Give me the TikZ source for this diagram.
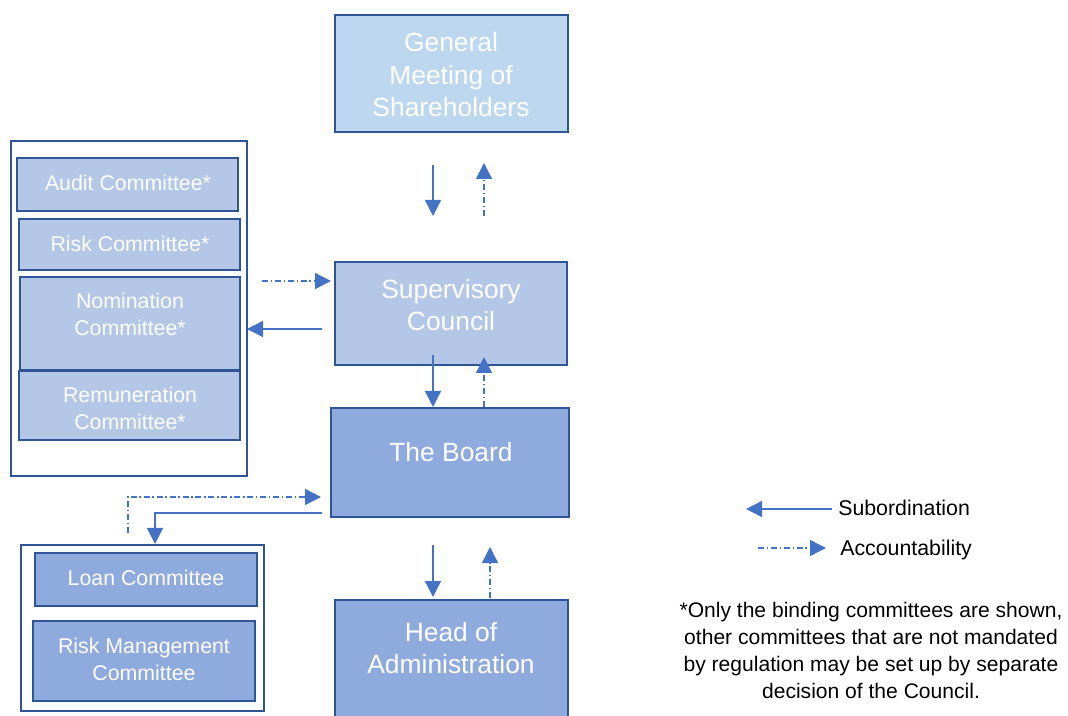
\documentclass[tikz,border=0pt]{standalone}
\usepackage{fontspec}
\setmainfont{Liberation Sans}
\usetikzlibrary{arrows.meta,fit}
\definecolor{edgeblue}{HTML}{2F5597}
\definecolor{arrblue}{HTML}{4472C4}
\definecolor{fillA}{HTML}{BDD7EE}
\definecolor{fillB}{HTML}{B4C7E7}
\definecolor{fillC}{HTML}{8FAADC}
\begin{document}
\begin{tikzpicture}[x=0.75pt,y=-0.75pt,
  box/.style={draw=edgeblue, line width=2.2pt, inner sep=0pt},
  cont/.style={draw=edgeblue, line width=1.6pt, fill=white, inner sep=0pt},
  bigtxt/.style={text=white, align=center, inner sep=0pt, font=\fontsize{19.8}{24.4}\selectfont},
  smalltxt/.style={text=white, align=center, inner sep=0pt, font=\fontsize{16}{20.25}\selectfont},
  legtxt/.style={text=black, anchor=west, inner sep=0pt, font=\fontsize{16}{20.25}\selectfont},
  subarr/.style={draw=arrblue, line width=1pt, -{Triangle[length=12pt,width=12pt]}},
  accarr/.style={draw=arrblue, line width=1pt, dash pattern=on 4.5pt off 2pt on 1.2pt off 2pt, -{Triangle[length=12pt,width=12pt]}}
]
\useasboundingbox (0,0) rectangle (1068,716);
\clip (0,0) rectangle (1068,716);

% main boxes
\node[box, fill=fillA, fit={(335,15)(568,132)}] (gms) {};
\node[bigtxt] (gmsT) at (451,75) {General\\Meeting of\\Shareholders};
\node[box, fill=fillB, fit={(335,262)(567,365)}] (sc) {};
\node[bigtxt] (scT) at (451,305) {Supervisory\\Council};
\node[box, fill=fillC, fit={(331,408)(569,517)}] (board) {};
\node[bigtxt] (boardT) at (451,452) {The Board};
\node[box, fill=fillC, fit={(335,600)(568,730)}] (head) {};
\node[bigtxt] (headT) at (451,648) {Head of\\Administration};

% left committees
\node[cont, fit={(11,141)(247,476)}] (leftc) {};
\node[box, fill=fillB, fit={(17,158)(238,211)}] (audit) {};
\node[smalltxt] (auditT) at (128,183) {Audit Committee*};
\node[box, fill=fillB, fit={(19,219)(240,270)}] (risk) {};
\node[smalltxt] (riskT) at (130,244) {Risk Committee*};
\node[box, fill=fillB, fit={(20,277)(240,370)}] (nom) {};
\node[smalltxt] (nomT) at (130,314) {Nomination\\Committee*};
\node[box, fill=fillB, fit={(19,371)(240,440)}] (rem) {};
\node[smalltxt] (remT) at (130,408) {Remuneration\\Committee*};

% lower committees
\node[cont, fit={(21,545)(264,711)}] (lowc) {};
\node[box, fill=fillC, fit={(35,553)(257,606)}] (loan) {};
\node[smalltxt] (loanT) at (146,578) {Loan Committee};
\node[box, fill=fillC, fit={(33,621)(255,701)}] (rm) {};
\node[smalltxt] (rmT) at (144,659) {Risk Management\\Committee};

% connector coordinates
\coordinate (g1) at (433,165); \coordinate (g2) at (433,216);
\coordinate (g3) at (484,216); \coordinate (g4) at (484,163);
\coordinate (s1) at (262,281); \coordinate (s2) at (331,281);
\coordinate (s3) at (322,329); \coordinate (s4) at (247,329);
\coordinate (b1) at (433,355); \coordinate (b2) at (433,407);
\coordinate (b3) at (484,407); \coordinate (b4) at (484,357);
\coordinate (l1) at (128,533); \coordinate (l2) at (321,497);
\coordinate (l3) at (322,513); \coordinate (l4) at (155,544);
\coordinate (h1) at (433,545); \coordinate (h2) at (433,597);
\coordinate (h3) at (490,598); \coordinate (h4) at (490,547);

\draw[subarr] (g1) -- (g2);
\draw[accarr] (g3) -- (g4);
\draw[accarr] (s1) -- (s2);
\draw[subarr] (s3) -- (s4);
\draw[subarr] (b1) -- (b2);
\draw[accarr] (b3) -- (b4);
\draw[accarr] (l1) |- (l2);
\draw[subarr] (l3) -| (l4);
\draw[subarr] (h1) -- (h2);
\draw[accarr] (h3) -- (h4);

% legend
\coordinate (k1) at (832,509); \coordinate (k2) at (746,509);
\coordinate (k3) at (758,548); \coordinate (k4) at (826,548);
\draw[subarr] (k1) -- (k2);
\draw[accarr] (k3) -- (k4);
\node[legtxt] (subT) at (838,508) {Subordination};
\node[legtxt] (accT) at (840,550) {Accountability};
\node[text=black, align=center, inner sep=0pt, font=\fontsize{15.8}{20.25}\selectfont] (note) at (871,650)
  {*Only the binding committees are shown,\\other committees that are not mandated\\by regulation may be set up by separate\\decision of the Council.};
\end{tikzpicture}
\end{document}
